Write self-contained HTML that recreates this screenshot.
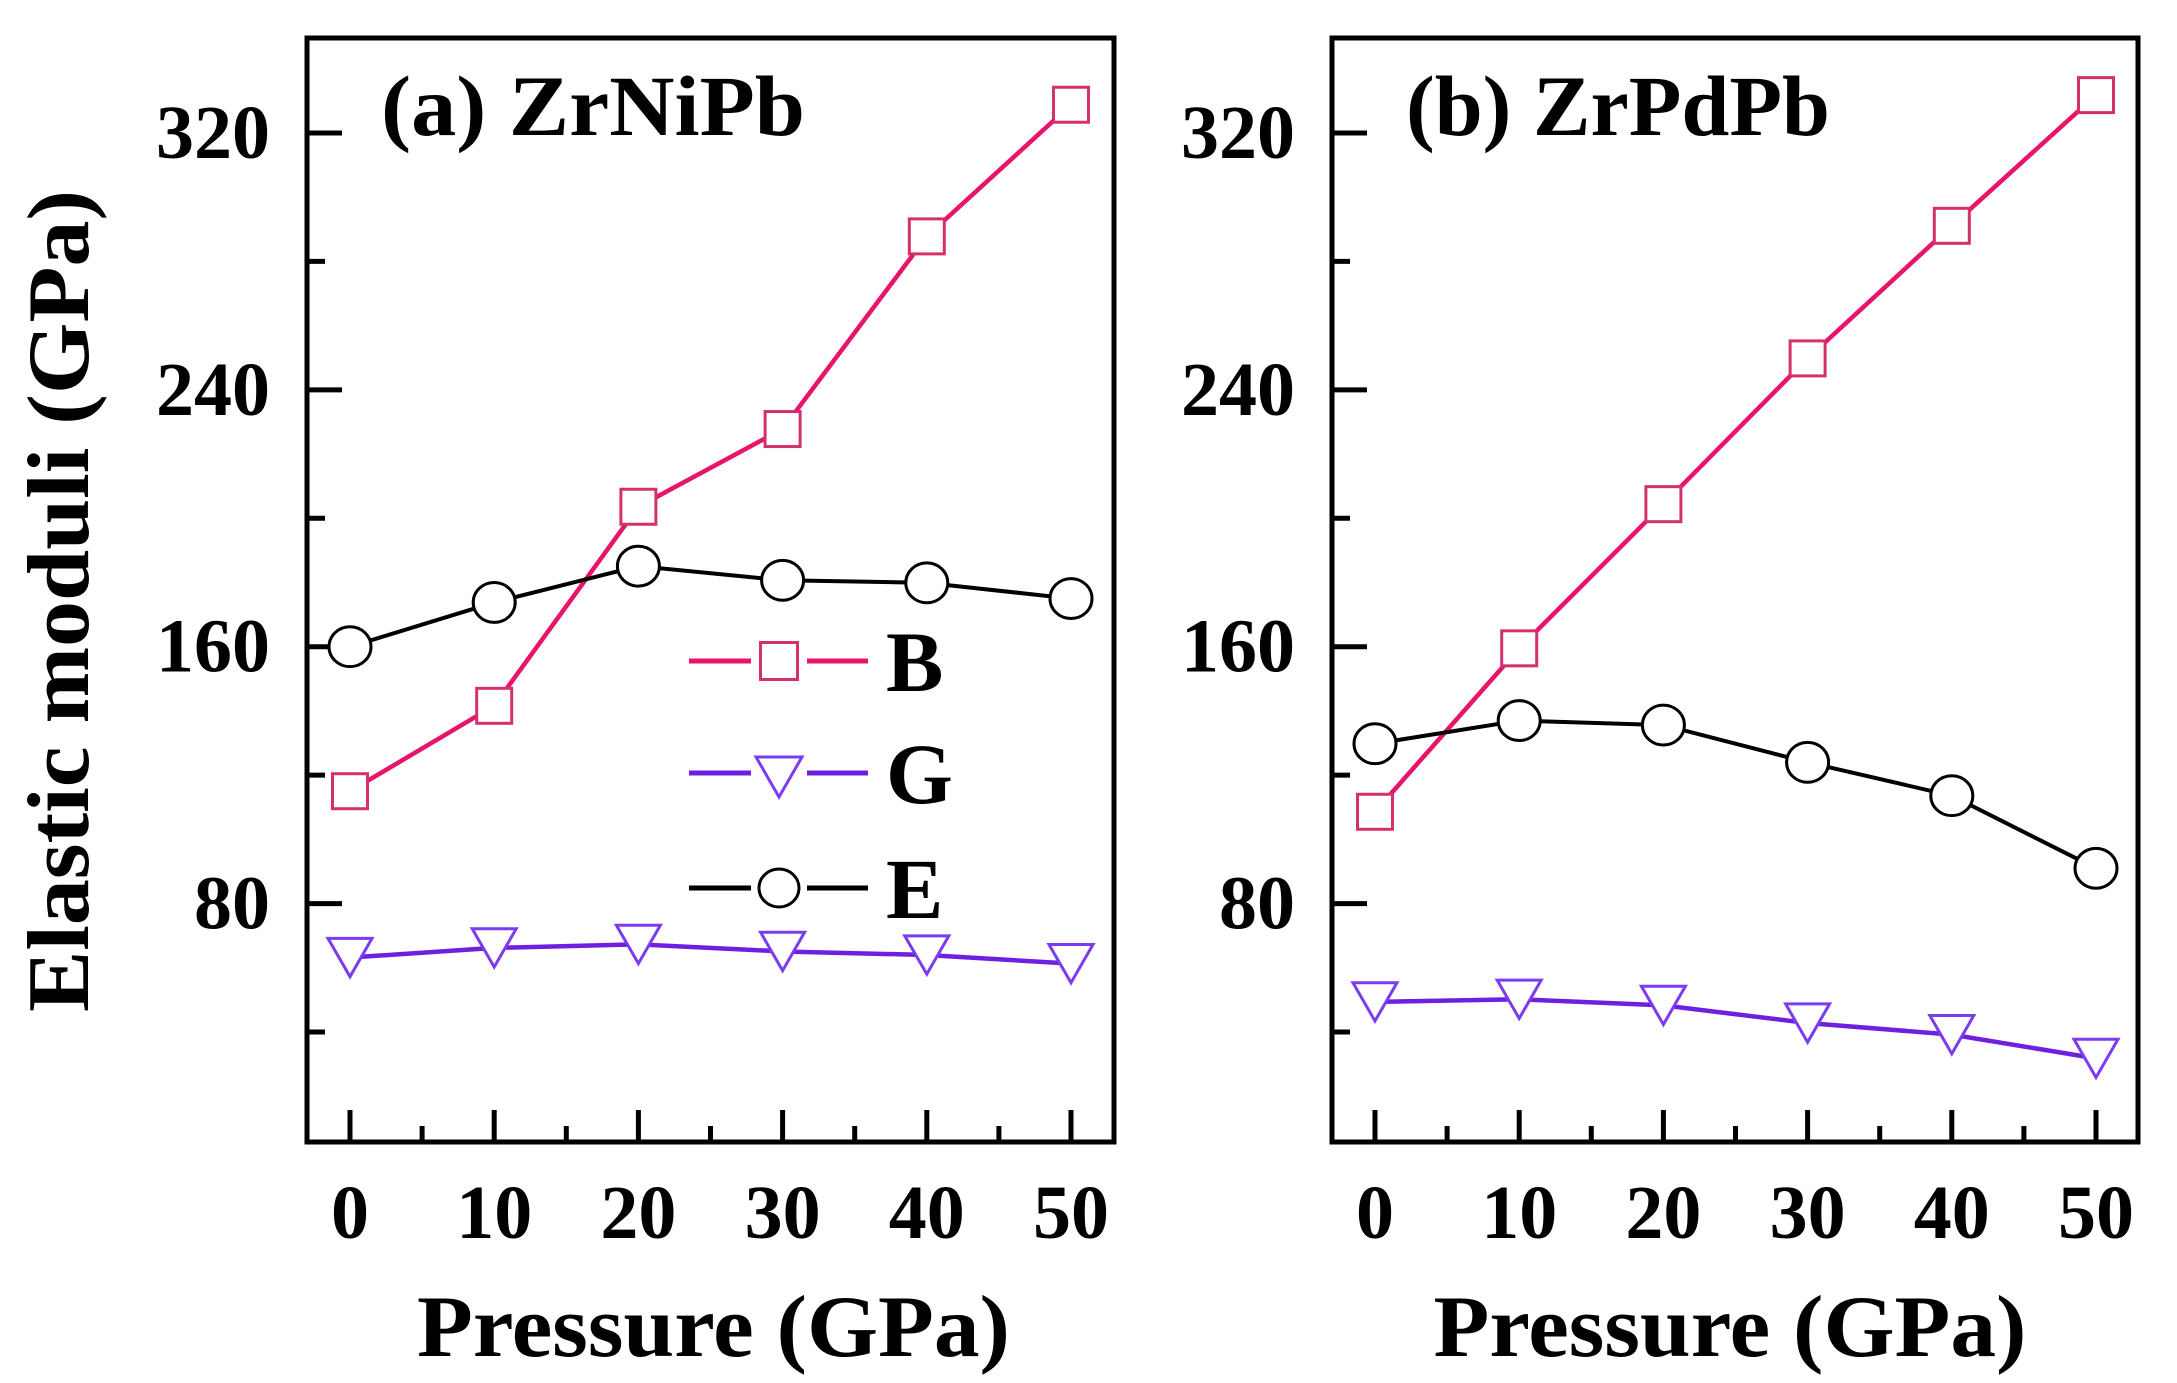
<!DOCTYPE html>
<html><head><meta charset="utf-8"><style>
html,body{margin:0;padding:0;background:#fff;}
svg{display:block;font-family:"Liberation Serif",serif;font-weight:bold;}
</style></head><body>
<svg id="chart" width="2177" height="1383" viewBox="0 0 2177 1383" xmlns="http://www.w3.org/2000/svg">
<text transform="translate(88,601) rotate(-90)" text-anchor="middle" font-size="88" textLength="822" lengthAdjust="spacingAndGlyphs">Elastic moduli (GPa)</text>
<g id="panels"></g>
</svg>
<script>
const pressures = [0, 10, 20, 30, 40, 50];
const bNi = [115, 141.6, 203.6, 227.8, 287.8, 328.8];
const gNi = [63.2, 66.2, 67.3, 65.1, 64, 61.3];
const eNi = [160, 173.8, 185.1, 180.7, 179.9, 175];
const bPd = [108.6, 159.5, 204.4, 249.8, 291.1, 331.8];
const gPd = [49.4, 50.2, 48.3, 42.8, 39.2, 31.8];
const ePd = [129.8, 137, 135.6, 124, 113.6, 91];
const yTickLabels = [80, 160, 240, 320];
const yMinorTicks = [40, 120, 200, 280];
const xTickLabels = [0, 10, 20, 30, 40, 50];
const xMinorTicks = [5, 15, 25, 35, 45];
const panelTitles = ["(a) ZrNiPb", "(b) ZrPdPb"];

const NS = "http://www.w3.org/2000/svg";
const root = document.getElementById('panels');
function mk(tag, attrs, parent) {
  const e = document.createElementNS(NS, tag);
  for (const k in attrs) e.setAttribute(k, attrs[k]);
  (parent || root).appendChild(e);
  return e;
}
const TOP = 38, BOT = 1142;
const Y80 = 903.6, Y320 = 133;
function yS(v) { return Y80 - (v - 80) / 240 * (Y80 - Y320); }
const PINK = "#e8146c", PINKM = "#d4306e", PURPLE = "#6f1fe0", PURPLEM = "#7b3cf0";

function square(g, x, y, s, col) {
  const r = mk('rect', {x: x - s/2, y: y - s/2, width: s, height: s, fill: '#fff', stroke: col, 'stroke-width': 3}, g);
  
  
}
function tri(g, x, y, s, col) {
  const h = s * 0.87;
  const p = mk('polygon', {points: `${x - s/2},${y - h/2} ${x + s/2},${y - h/2} ${x},${y + h/2}`, fill: '#fff', stroke: col, 'stroke-width': 3}, g);
  
  
}
function circ(g, x, y, r) {
  const c = mk('ellipse', {cx: x, cy: y, rx: r, ry: r * 0.95, fill: '#fff', stroke: '#000', 'stroke-width': 3}, g);
  
  
}

function panel(idx, L, R, x0px, x50px, B, G, E, legend) {
  const g = mk('g', {});
  
  
  const xS = v => x0px + v / 50 * (x50px - x0px);
  const frame = mk('rect', {x: L, y: TOP, width: R - L, height: BOT - TOP, fill: 'none', stroke: '#000', 'stroke-width': 5}, g);
  
  
  yTickLabels.forEach(v => {
    const t = mk('line', {x1: L, x2: L + 35, y1: yS(v), y2: yS(v), stroke: '#000', 'stroke-width': 5}, g);
    
    
    const tx = mk('text', {x: L - 37, y: yS(v) + 25, 'text-anchor': 'end', 'font-size': 76}, g);
    tx.textContent = v;
    
    
  });
  yMinorTicks.forEach(v => {
    const t = mk('line', {x1: L, x2: L + 18, y1: yS(v), y2: yS(v), stroke: '#000', 'stroke-width': 5}, g);
    
    
  });
  xTickLabels.forEach(v => {
    const t = mk('line', {x1: xS(v), x2: xS(v), y1: BOT, y2: BOT - 32, stroke: '#000', 'stroke-width': 5}, g);
    
    
    const tx = mk('text', {x: xS(v), y: 1238, 'text-anchor': 'middle', 'font-size': 76}, g);
    tx.textContent = v;
    
    
  });
  xMinorTicks.forEach(v => {
    const t = mk('line', {x1: xS(v), x2: xS(v), y1: BOT, y2: BOT - 16, stroke: '#000', 'stroke-width': 5}, g);
    
    
  });
  const xt = mk('text', {x: (L + R) / 2 + (idx === 0 ? 3 : -5), y: 1356, 'text-anchor': 'middle', 'font-size': 88, textLength: 593, lengthAdjust: 'spacingAndGlyphs'}, g);
  xt.textContent = "Pressure (GPa)";
  
  
  const pt = mk('text', {x: L + 74, y: 135, 'font-size': 86, textLength: 424, lengthAdjust: 'spacingAndGlyphs'}, g);
  pt.textContent = panelTitles[idx];
  
  

  const pts = arr => arr.map((v, i) => `${xS(pressures[i])},${yS(v)}`).join(' ');
  const lb = mk('polyline', {points: pts(B), fill: 'none', stroke: PINK, 'stroke-width': 4.5}, g);
  
  
  const lg = mk('polyline', {points: pts(G), fill: 'none', stroke: PURPLE, 'stroke-width': 4.5}, g);
  
  
  const le = mk('polyline', {points: pts(E), fill: 'none', stroke: '#000', 'stroke-width': 4}, g);
  
  
  E.forEach((v, i) => circ(g, xS(pressures[i]), yS(v), 21));
  G.forEach((v, i) => tri(g, xS(pressures[i]), yS(v), 44, PURPLEM));
  B.forEach((v, i) => square(g, xS(pressures[i]), yS(v), 35, PINKM));

  if (legend) {
    const lgG = mk('g', {}, g);
    
    
    const rows = [["B", 661, PINK], ["G", 773, PURPLE], ["E", 888, "#000"]];
    rows.forEach(([name, y, col]) => {
      const l1 = mk('line', {x1: 689, x2: 751, y1: y, y2: y, stroke: col, 'stroke-width': 5}, lgG);
      
      
      const l2 = mk('line', {x1: 807, x2: 868, y1: y, y2: y, stroke: col, 'stroke-width': 5}, lgG);
      
      
      if (name === "B") square(lgG, 779, y, 37, PINKM);
      if (name === "G") tri(lgG, 779, y + 4, 46, PURPLEM);
      if (name === "E") circ(lgG, 779, y, 20);
      const t = mk('text', {x: 886, y: y + 30, 'font-size': 86}, lgG);
      t.textContent = name;
      
      
    });
  }
}
panel(0, 307, 1114, 350, 1071, bNi, gNi, eNi, true);
panel(1, 1332, 2138, 1375, 2096, bPd, gPd, ePd, false);
</script>
</body></html>
